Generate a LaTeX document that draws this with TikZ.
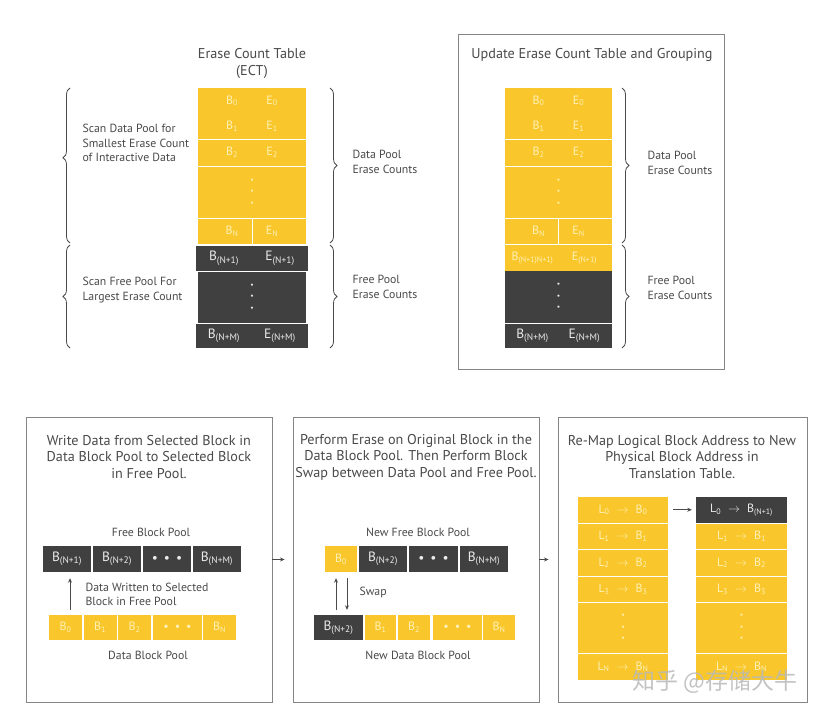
\documentclass[tikz,border=0pt]{standalone}
\usepackage{fontspec}
\setmainfont{PT Sans}
\newfontfamily\cjkfont{Noto Sans CJK SC}
\usetikzlibrary{arrows.meta,decorations.pathreplacing}
\definecolor{ectyellow}{HTML}{F9C72B}
\definecolor{ectdark}{HTML}{404040}
\definecolor{ectgray}{HTML}{4A4A4A}
\definecolor{ectline}{HTML}{858585}
\definecolor{ylwtext}{HTML}{FFF1B8}
\newcommand{\pair}[3][40pt]{\makebox[#1]{#2}\makebox[#1]{#3}}
\newcommand{\hdts}{\textbullet\hspace{6pt}\textbullet\hspace{6pt}\textbullet}
\newcommand{\vdts}{\textbullet\\\textbullet\\\textbullet}
\newcommand{\maps}[2]{L\textsubscript{#1}\hspace{7pt}$\rightarrow$\hspace{7pt}B\textsubscript{#2}}
\tikzset{
	cell/.style={rectangle, inner sep=0pt},
	ylw/.style={cell, fill=ectyellow, text=ylwtext, font=\fontsize{12}{13}\selectfont},
	drk/.style={cell, fill=ectdark, text=white!92!black, font=\fontsize{13.5}{15}\selectfont},
	dotcol/.style={align=center, font=\fontsize{7.5}{11.5}\selectfont},
	sep/.style={draw=white, line width=1pt},
	title/.style={text=ectgray, align=center, font=\fontsize{14.2}{16.5}\selectfont},
	lbl/.style={text=ectgray, align=left, font=\fontsize{11.8}{14.5}\selectfont},
	panel/.style={draw=ectline, line width=0.9pt, inner sep=0pt},
	brc/.style={draw=ectgray, line width=0.8pt, decorate, decoration={brace, amplitude=7pt, aspect=#1}},
	brc/.default=0.5,
	arr/.style={draw=ectgray, line width=0.8pt, -{Stealth[length=4.5pt,width=4pt]}},
}
\begin{document}
\begin{tikzpicture}[x=1pt,y=-1pt]
	\fill[white] (0,0) rectangle (819,717);
	\useasboundingbox (0,0) rectangle (819,717);

	\node (ecttitle) at (252,63.5)[title] {Erase Count Table\\(ECT)};
	\node (a0) at (252,100.75)[ylw, minimum width=108pt, minimum height=25.5pt] {\pair{B\textsubscript{0}}{E\textsubscript{0}}};
	\node (a1) at (252,126.25)[ylw, minimum width=108pt, minimum height=25.5pt] {\pair{B\textsubscript{1}}{E\textsubscript{1}}};
	\node (a2) at (252,152.5)[ylw, minimum width=108pt, minimum height=26pt] {\pair{B\textsubscript{2}}{E\textsubscript{2}}};
	\node (a3) at (252,192)[ylw, dotcol, minimum width=108pt, minimum height=51pt] {\vdts};
	\node (a4) at (252,231)[ylw, minimum width=108pt, minimum height=25pt] {\pair{B\textsubscript{N}}{E\textsubscript{N}}};
	\node (a5) at (252,258.25)[drk, minimum width=108pt, minimum height=24.5pt] {\pair[56pt]{B\textsubscript{(N+1)}}{E\textsubscript{(N+1)}}};
	\node (a6) at (252,297)[drk, dotcol, minimum width=108pt, minimum height=51pt] {\vdts};
	\node (a7) at (252,335.75)[drk, minimum width=108pt, minimum height=24.5pt] {\pair[56pt]{B\textsubscript{(N+M)}}{E\textsubscript{(N+M)}}};
	\draw[sep] (a4.north) -- (a4.south);
	\draw[brc=0.55] (70,243) -- (70,88);
	\draw[brc] (70,348) -- (70,245);
	\draw[brc] (330,88) -- (330,243);
	\draw[brc] (330,245) -- (330,348);
	\node (scandata) at (79,143)[lbl, anchor=west] {Scan Data Pool for\\Smallest Erase Count\\of Interactive Data};
	\node (scanfree) at (79,290)[lbl, anchor=west] {Scan Free Pool For\\Largest Erase Count};
	\node (datacnt) at (349,162)[lbl, anchor=west] {Data Pool\\Erase Counts};
	\node (freecnt) at (349,287)[lbl, anchor=west] {Free Pool\\Erase Counts};

	\node (upbox) at (591,201.5)[panel, minimum width=266pt, minimum height=335pt] {};
	\node (uptitle) at (592,55)[title] {Update Erase Count Table and Grouping};
	\node (c0) at (558.5,100.75)[ylw, minimum width=107pt, minimum height=25.5pt] {\pair{B\textsubscript{0}}{E\textsubscript{0}}};
	\node (c1) at (558.5,126.25)[ylw, minimum width=107pt, minimum height=25.5pt] {\pair{B\textsubscript{1}}{E\textsubscript{1}}};
	\node (c2) at (558.5,152.5)[ylw, minimum width=107pt, minimum height=26pt] {\pair{B\textsubscript{2}}{E\textsubscript{2}}};
	\node (c3) at (558.5,192)[ylw, dotcol, minimum width=107pt, minimum height=51pt] {\vdts};
	\node (c4) at (558.5,231)[ylw, minimum width=107pt, minimum height=25pt] {\pair{B\textsubscript{N}}{E\textsubscript{N}}};
	\node (c5) at (558.5,257.75)[ylw, minimum width=107pt, minimum height=25.5pt] {\pair[52pt]{B\textsubscript{(N+1)N+1)}}{E\textsubscript{(N+1)}}};
	\node (c6) at (558.5,296.5)[drk, dotcol, minimum width=107pt, minimum height=52pt] {\vdts};
	\node (c7) at (558.5,335.75)[drk, minimum width=107pt, minimum height=24.5pt] {\pair[52pt]{B\textsubscript{(N+M)}}{E\textsubscript{(N+M)}}};
	\draw[sep] (c4.north) -- (c4.south);
	\draw[brc] (622,88) -- (622,243);
	\draw[brc] (622,245) -- (622,348);
	\node (updata) at (644,163)[lbl, anchor=west] {Data Pool\\Erase Counts};
	\node (upfree) at (644,288)[lbl, anchor=west] {Free Pool\\Erase Counts};

	\node (box1) at (149,559.5)[panel, minimum width=246pt, minimum height=285pt] {};
	\node (t1) at (149,457)[title] {Write Data from Selected Block in\\Data Block Pool to Selected Block\\in Free Pool.};
	\node (freepool) at (151,532)[lbl, align=center] {Free Block Pool};
	\node (p1d0) at (67,559)[drk, minimum width=48.5pt, minimum height=26pt] {B\textsubscript{(N+1)}};
	\node (p1d1) at (117,559)[drk, minimum width=48.5pt, minimum height=26pt] {B\textsubscript{(N+2)}};
	\node (p1d2) at (167,559)[drk, minimum width=48.5pt, minimum height=26pt] {\hdts};
	\node (p1d3) at (217,559)[drk, minimum width=48.5pt, minimum height=26pt] {B\textsubscript{(N+M)}};
	\node (p1y0) at (65.5,627.5)[ylw, minimum width=33pt, minimum height=25pt] {B\textsubscript{0}};
	\node (p1y1) at (100,627.5)[ylw, minimum width=33pt, minimum height=25pt] {B\textsubscript{1}};
	\node (p1y2) at (134.5,627.5)[ylw, minimum width=33pt, minimum height=25pt] {B\textsubscript{2}};
	\node (p1y3) at (177.5,627.5)[ylw, minimum width=49pt, minimum height=25pt] {\hdts};
	\node (p1y4) at (219.5,627.5)[ylw, minimum width=33pt, minimum height=25pt] {B\textsubscript{N}};
	\coordinate (p1x) at (70,0);
	\draw[arr, shorten <=5pt, shorten >=6pt] (p1y0.north -| p1x) -- (p1d0.south -| p1x);
	\node (written) at (82,594.5)[lbl, anchor=west] {Data Written to Selected\\Block in Free Pool};
	\node (datapool) at (148,655)[lbl, align=center] {Data Block Pool};

	\node (box2) at (416,559.5)[panel, minimum width=246pt, minimum height=285pt] {};
	\node (t2) at (416,457)[title] {Perform Erase on Original Block in the\\Data Block Pool. Then Perform Block\\Swap between Data Pool and Free Pool.};
	\node (newfree) at (418,532)[lbl, align=center] {New Free Block Pool};
	\node (p2t0) at (341,559)[ylw, minimum width=32pt, minimum height=26pt] {B\textsubscript{0}};
	\node (p2t1) at (383,559)[drk, minimum width=48pt, minimum height=26pt] {B\textsubscript{(N+2)}};
	\node (p2t2) at (433.5,559)[drk, minimum width=49pt, minimum height=26pt] {\hdts};
	\node (p2t3) at (484,559)[drk, minimum width=48pt, minimum height=26pt] {B\textsubscript{(N+M)}};
	\node (p2u0) at (338.5,627.5)[drk, minimum width=49pt, minimum height=25pt] {B\textsubscript{(N+2)}};
	\node (p2u1) at (380.5,627.5)[ylw, minimum width=31.5pt, minimum height=25pt] {B\textsubscript{1}};
	\node (p2u2) at (414,627.5)[ylw, minimum width=32pt, minimum height=25pt] {B\textsubscript{2}};
	\node (p2u3) at (457.5,627.5)[ylw, minimum width=49pt, minimum height=25pt] {\hdts};
	\node (p2u4) at (499,627.5)[ylw, minimum width=32pt, minimum height=25pt] {B\textsubscript{N}};
	\coordinate (p2up) at (336,0);
	\coordinate (p2dn) at (347,0);
	\draw[arr, shorten <=5pt, shorten >=6pt] (p2u0.north -| p2up) -- (p2t0.south -| p2up);
	\draw[arr, shorten <=6pt, shorten >=5pt] (p2t0.south -| p2dn) -- (p2u0.north -| p2dn);
	\node (swap) at (356,592)[lbl, anchor=west] {Swap};
	\node (newdata) at (418,655)[lbl, align=center] {New Data Block Pool};

	\node (box3) at (682.5,559.5)[panel, minimum width=249pt, minimum height=285pt] {};
	\node (t3) at (682,457)[title] {Re-Map Logical Block Address to New\\Physical Block Address in\\Translation Table.};
	\node (l0) at (623,509.75)[ylw, minimum width=90pt, minimum height=25.5pt] {\maps{0}{0}};
	\node (l1) at (623,536.25)[ylw, minimum width=90pt, minimum height=25.5pt] {\maps{1}{1}};
	\node (l2) at (623,562.75)[ylw, minimum width=90pt, minimum height=25.5pt] {\maps{2}{2}};
	\node (l3) at (623,589.25)[ylw, minimum width=90pt, minimum height=25.5pt] {\maps{3}{3}};
	\node (l4) at (623,627.75)[ylw, dotcol, minimum width=90pt, minimum height=49.5pt] {\vdts};
	\node (l5) at (623,666.75)[ylw, minimum width=90pt, minimum height=26.5pt] {\maps{N}{N}};
	\node (m0) at (741.5,509.75)[drk, minimum width=91pt, minimum height=25.5pt, font=\fontsize{12}{13}\selectfont] {\maps{0}{(N+1)}};
	\node (m1) at (741.5,536.25)[ylw, minimum width=91pt, minimum height=25.5pt] {\maps{1}{1}};
	\node (m2) at (741.5,562.75)[ylw, minimum width=91pt, minimum height=25.5pt] {\maps{2}{2}};
	\node (m3) at (741.5,589.25)[ylw, minimum width=91pt, minimum height=25.5pt] {\maps{3}{3}};
	\node (m4) at (741.5,627.75)[ylw, dotcol, minimum width=91pt, minimum height=49.5pt] {\vdts};
	\node (m5) at (741.5,666.75)[ylw, minimum width=91pt, minimum height=26.5pt] {\maps{N}{N}};
	\draw[arr, shorten <=5pt, shorten >=4pt] (l0) -- (m0);

	\draw[arr, shorten >=8pt] (box1) -- (box2);
	\draw[arr, shorten >=9pt] (box2) -- (box3);

	\node (wm) at (715,682)[text=gray!55, opacity=0.85, font=\cjkfont\fontsize{23}{23}\selectfont] {知乎 @存储大牛};
\end{tikzpicture}
\end{document}
